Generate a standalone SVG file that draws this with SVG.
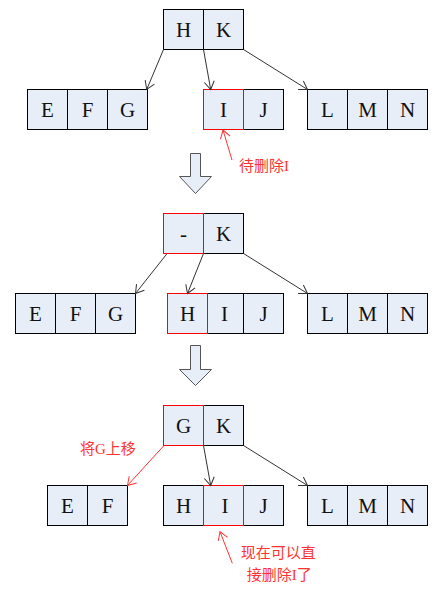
<svg xmlns="http://www.w3.org/2000/svg" width="445" height="591" viewBox="0 0 445 591">
<style>
.c{fill:#e8eef8;stroke:#000;stroke-width:1}
.r{fill:none;stroke:#ff0000;stroke-width:1}
.t{font-family:"Liberation Serif","Times New Roman",serif;font-size:21px;fill:#111;text-anchor:middle}
.n{font-family:"Liberation Serif","Noto Sans CJK SC",serif;font-size:15px;fill:#ff3333}
.e{stroke:#333;stroke-width:1;fill:none;marker-end:url(#a)}
.er{stroke:#ff3333;stroke-width:1;fill:none;marker-end:url(#ar)}
.d{fill:#e8eef8;stroke:#555;stroke-width:1}
</style>
<defs>
<marker id="a" markerUnits="userSpaceOnUse" markerWidth="20" markerHeight="20" refX="10" refY="10" orient="auto" overflow="visible">
<path d="M2,5 L10,10 L2,15" fill="none" stroke="#333" stroke-width="1"/>
</marker>
<marker id="ar" markerUnits="userSpaceOnUse" markerWidth="20" markerHeight="20" refX="10" refY="10" orient="auto" overflow="visible">
<path d="M2,5 L10,10 L2,15" fill="none" stroke="#ff3333" stroke-width="1"/>
</marker>
</defs>

<!-- Stage 1 -->
<g id="s1-root">
<rect class="c" x="163.5" y="9.5" width="40" height="40"/><rect class="c" x="203.5" y="9.5" width="40" height="40"/>
<text class="t" x="183.5" y="36.7">H</text><text class="t" x="223.5" y="36.7">K</text>
</g>
<g id="s1-efg">
<rect class="c" x="27.5" y="89.5" width="40" height="40"/><rect class="c" x="67.5" y="89.5" width="40" height="40"/><rect class="c" x="107.5" y="89.5" width="40" height="40"/>
<text class="t" x="47.5" y="116.7">E</text><text class="t" x="87.5" y="116.7">F</text><text class="t" x="127.5" y="116.7">G</text>
</g>
<g id="s1-ij">
<rect class="c" x="203.5" y="89.5" width="40" height="40"/><rect class="c" x="243.5" y="89.5" width="40" height="40"/>
<rect class="r" x="203.5" y="89.5" width="40" height="40"/>
<text class="t" x="223.5" y="116.7">I</text><text class="t" x="263.5" y="116.7">J</text>
</g>
<g id="s1-lmn">
<rect class="c" x="307.5" y="89.5" width="40" height="40"/><rect class="c" x="347.5" y="89.5" width="40" height="40"/><rect class="c" x="387.5" y="89.5" width="40" height="40"/>
<text class="t" x="327.5" y="116.7">L</text><text class="t" x="367.5" y="116.7">M</text><text class="t" x="407.5" y="116.7">N</text>
</g>
<g id="s1-note">
<text class="n" x="239" y="171">待删除I</text>
</g>

<!-- Stage 2 -->
<g id="s2-root">
<rect class="c" x="163.5" y="213.5" width="40" height="40"/><rect class="c" x="203.5" y="213.5" width="40" height="40"/>
<rect class="r" x="163.5" y="213.5" width="40" height="40"/>
<text class="t" x="183.5" y="240.7">-</text><text class="t" x="223.5" y="240.7">K</text>
</g>
<g id="s2-efg">
<rect class="c" x="15.5" y="293.5" width="40" height="40"/><rect class="c" x="55.5" y="293.5" width="40" height="40"/><rect class="c" x="95.5" y="293.5" width="40" height="40"/>
<text class="t" x="35.5" y="320.7">E</text><text class="t" x="75.5" y="320.7">F</text><text class="t" x="115.5" y="320.7">G</text>
</g>
<g id="s2-hij">
<rect class="c" x="207.5" y="293.5" width="36" height="40"/><rect class="c" x="243.5" y="293.5" width="40" height="40"/>
<rect class="c" x="167.5" y="293.5" width="40" height="40"/>
<rect class="r" x="167.5" y="293.5" width="40" height="40"/>
<text class="t" x="187.5" y="320.7">H</text><text class="t" x="224.5" y="320.7">I</text><text class="t" x="263.5" y="320.7">J</text>
</g>
<g id="s2-lmn">
<rect class="c" x="307.5" y="293.5" width="40" height="40"/><rect class="c" x="347.5" y="293.5" width="40" height="40"/><rect class="c" x="387.5" y="293.5" width="40" height="40"/>
<text class="t" x="327.5" y="320.7">L</text><text class="t" x="367.5" y="320.7">M</text><text class="t" x="407.5" y="320.7">N</text>
</g>

<!-- Stage 3 -->
<g id="s3-root">
<rect class="c" x="163.5" y="405.5" width="40" height="40"/><rect class="c" x="203.5" y="405.5" width="40" height="40"/>
<rect class="r" x="163.5" y="405.5" width="40" height="40"/>
<text class="t" x="183.5" y="432.7">G</text><text class="t" x="223.5" y="432.7">K</text>
</g>
<g id="s3-ef">
<rect class="c" x="47.5" y="485.5" width="40" height="40"/><rect class="c" x="87.5" y="485.5" width="40" height="40"/>
<text class="t" x="67.5" y="512.7">E</text><text class="t" x="107.5" y="512.7">F</text>
</g>
<g id="s3-hij">
<rect class="c" x="163.5" y="485.5" width="40" height="40"/><rect class="c" x="203.5" y="485.5" width="40" height="40"/><rect class="c" x="243.5" y="485.5" width="40" height="40"/>
<rect class="r" x="203.5" y="485.5" width="40" height="40"/>
<text class="t" x="183.5" y="512.7">H</text><text class="t" x="225" y="512.7">I</text><text class="t" x="263.5" y="512.7">J</text>
</g>
<g id="s3-lmn">
<rect class="c" x="307.5" y="485.5" width="40" height="40"/><rect class="c" x="347.5" y="485.5" width="40" height="40"/><rect class="c" x="387.5" y="485.5" width="40" height="40"/>
<text class="t" x="327.5" y="512.7">L</text><text class="t" x="367.5" y="512.7">M</text><text class="t" x="407.5" y="512.7">N</text>
</g>
<g id="s3-notes">
<text class="n" x="80" y="454">将G上移</text>
<text class="n" x="240.7" y="558">现在可以直</text>
<text class="n" x="246.7" y="580">接删除I了</text>
</g>

<!-- Transition arrows -->
<g id="down1"><polygon class="d" points="190.5,153.5 200.5,153.5 200.5,176.5 211.5,176.5 195.5,193.5 179.5,176.5 190.5,176.5"/></g>
<g id="down2"><polygon class="d" points="190.5,345.5 200.5,345.5 200.5,369.5 211.5,369.5 195.5,385.5 179.5,369.5 190.5,369.5"/></g>

<g id="connectors">
<line class="e" x1="163.5" y1="49.5" x2="146.7" y2="89.5"/>
<line class="e" x1="203.5" y1="49.5" x2="210.7" y2="89.5"/>
<line class="e" x1="243.5" y1="49.5" x2="307.5" y2="89.5"/>
<line class="er" x1="232" y1="160" x2="223" y2="130"/>

<line class="e" x1="166.7" y1="254" x2="135.5" y2="293.5"/>
<line class="e" x1="203.5" y1="253.5" x2="187.5" y2="293.5"/>
<line class="e" x1="243.5" y1="253.5" x2="307.5" y2="293.5"/>

<line class="er" x1="163.5" y1="446" x2="127.5" y2="485.5"/>
<line class="e" x1="203.5" y1="445.5" x2="210.7" y2="485.5"/>
<line class="e" x1="243.5" y1="445.5" x2="307.5" y2="485.5"/>
<line class="er" x1="232.3" y1="563.3" x2="220" y2="531.7"/>
</g>
</svg>
